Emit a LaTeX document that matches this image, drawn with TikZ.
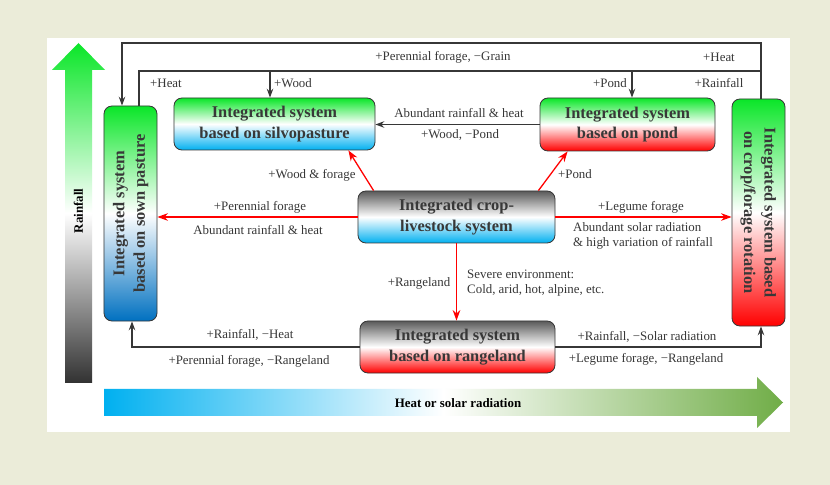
\documentclass[tikz,border=0pt]{standalone}
\usepackage{fontspec}
\setmainfont{Liberation Serif}
\usepackage{graphicx}
\usetikzlibrary{calc}
\usetikzlibrary{arrows.meta}
\definecolor{fond}{RGB}{235,236,217}
\definecolor{vert}{RGB}{10,230,40}
\definecolor{ciel}{RGB}{0,176,240}
\definecolor{bleu}{RGB}{0,112,192}
\definecolor{rouge}{RGB}{255,0,0}
\definecolor{gris}{RGB}{90,90,90}
\definecolor{grisf}{RGB}{50,50,50}
\definecolor{vertf}{RGB}{112,173,71}
\definecolor{trait}{RGB}{55,55,55}
\definecolor{texte}{RGB}{55,55,55}

\tikzset{
    boite/.style={draw=trait, line width=0.7pt, rounded corners=0.24cm, inner sep=0pt,
        align=center, text=black!78, font=\fontsize{14}{17.5}\selectfont\bfseries},
    etiq/.style={text=texte, inner sep=0pt, font=\fontsize{11}{13.2}\selectfont},
    ligne/.style={draw=trait, line width=1.1pt},
    fleche/.style={ligne, -{Stealth[length=7.5pt,width=5.5pt]}},
    flecherouge/.style={draw=rouge, line width=1.1pt, -{Stealth[length=9pt,width=6.5pt]}}
}

\begin{document}
\begin{tikzpicture}[x=0.03cm, y=-0.03cm]
            \useasboundingbox (0,0) rectangle (830,485);
            \fill[fond] (0,0) rectangle (830,485);
            \fill[white] (47,38) rectangle (790,432);
            % axes
            \shade[top color=vert, bottom color=grisf, middle color=white]
                (65,383) -- (65,70) -- (52,70) -- (78.5,43) -- (105,70) -- (92,70) -- (92,383) -- cycle;
            \shade[left color=ciel, right color=vertf, middle color=white]
                (104,389) -- (757,389) -- (757,377) -- (783,402.5) -- (757,428) -- (757,416) -- (104,416) -- cycle;
            \node[rotate=90, inner sep=0pt, font=\fontsize{11}{13}\selectfont\bfseries] (pluie) at (78.5,211) {Rainfall};
            \node[inner sep=0pt, font=\fontsize{11}{13}\selectfont\bfseries] (chaleur) at (458,403) {Heat or solar radiation};
            % systemes
            \node[boite, minimum width=6.03cm, minimum height=1.56cm,
                top color=vert, bottom color=ciel, middle color=white] (silvo) at (274.5,124)
                {Integrated system\\based on silvopasture};
            \node[boite, minimum width=5.25cm, minimum height=1.59cm,
                top color=vert, bottom color=rouge, middle color=white] (pond) at (627.5,124.5)
                {Integrated system\\based on pond};
            \node[boite, minimum width=5.91cm, minimum height=1.56cm,
                top color=gris, bottom color=ciel, middle color=white] (cls) at (456.5,217)
                {Integrated crop-\\livestock system};
            \node[boite, minimum width=5.85cm, minimum height=1.56cm,
                top color=gris, bottom color=rouge, middle color=white] (range) at (457.5,347)
                {Integrated system\\based on rangeland};
            \node[boite, minimum width=1.59cm, minimum height=6.45cm,
                top color=vert, bottom color=bleu, middle color=white] (sown) at (130.5,213.5)
                {\rotatebox{90}{\begin{tabular}{@{}c@{}}Integrated system\\based on sown pasture\end{tabular}}};
            \node[boite, minimum width=1.59cm, minimum height=6.81cm,
                top color=vert, bottom color=rouge, middle color=white] (rot) at (758.5,212.5)
                {\rotatebox{-90}{\begin{tabular}{@{}c@{}}Integrated system based\\on crop/forage rotation\end{tabular}}};
            % liaisons
            \coordinate (hD) at (761,43);
            \coordinate (hG) at (122,43);
            \coordinate (iG) at (139,71);
            \coordinate (iD) at (761,71);
            \coordinate (w) at (270,71);
            \coordinate (p) at (632,71);
            \draw[fleche] ($(rot.north)+(2.5,0)$) -- (hD) -- (hG) -- ($(sown.north)+(-8.5,0)$);
            \draw[ligne] ($(sown.north)+(8.5,0)$) -- (iG) -- (iD);
            \draw[fleche] (w) -- (w |- silvo.north);
            \draw[fleche] (p) -- (p |- pond.north);
            \draw[fleche] (pond.west) -- (pond.west -| silvo.east);
            \draw[fleche] (range.west) -| ($(sown.south)+(1.5,0)$);
            \draw[fleche] (range.east) -| ($(rot.south)+(2.5,0)$);
            \draw[flecherouge] ($(cls.north west)+(16,0)$) -- ($(silvo.south east)+(-27,0)$);
            \draw[flecherouge] ($(cls.north east)+(-17,0)$) -- ($(pond.south west)+(28,0)$);
            \draw[flecherouge] (cls.west) -- (cls.west -| sown.east);
            \draw[flecherouge] (cls.east) -- (cls.east -| rot.west);
            \draw[flecherouge] (cls.south) -- (cls.south |- range.north);
            % etiquettes
            \node[etiq] (e1) at (443,57) {+Perennial forage, −Grain};
            \node[etiq] (e2) at (719,57) {+Heat};
            \node[etiq] (e3) at (166,83) {+Heat};
            \node[etiq] (e4) at (293,83) {+Wood};
            \node[etiq] (e5) at (610,83) {+Pond};
            \node[etiq] (e6) at (719,83) {+Rainfall};
            \node[etiq] (e7) at (459,113) {Abundant rainfall \& heat};
            \node[etiq] (e8) at (460,135) {+Wood, −Pond};
            \node[etiq] (e9) at (312,175) {+Wood \& forage};
            \node[etiq] (e10) at (575,174) {+Pond};
            \node[etiq] (e11) at (260,207) {+Perennial forage};
            \node[etiq] (e12) at (258,230) {Abundant rainfall \& heat};
            \node[etiq] (e13) at (641,207) {+Legume forage};
            \node[etiq, anchor=west, align=left] (e14) at (573,236) {Abundant solar radiation\\\& high variation of rainfall};
            \node[etiq] (e15) at (419,283) {+Rangeland};
            \node[etiq, anchor=west, align=left] (e16) at (467,283) {Severe environment:\\Cold, arid, hot, alpine, etc.};
            \node[etiq] (e17) at (250,335) {+Rainfall, −Heat};
            \node[etiq] (e18) at (249,361) {+Perennial forage, −Rangeland};
            \node[etiq] (e19) at (647,337) {+Rainfall, −Solar radiation};
            \node[etiq] (e20) at (646,359) {+Legume forage, −Rangeland};
        \end{tikzpicture}
\end{document}
